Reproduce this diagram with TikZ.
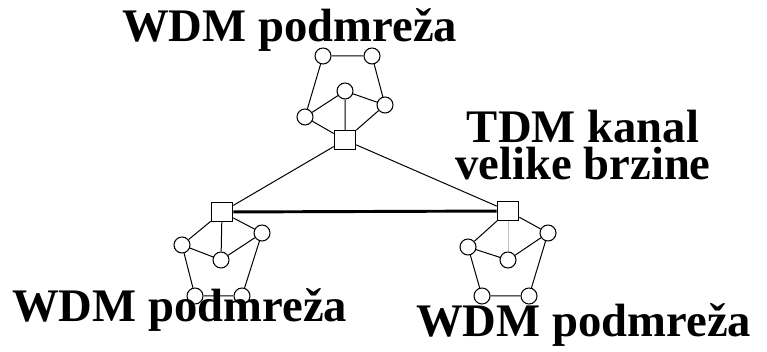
\documentclass[tikz,border=0pt]{standalone}
\usepackage{fontspec}
\setmainfont{Liberation Serif}
\begin{document}
\begin{tikzpicture}[x=0.75pt,y=-0.75pt,
  ring/.style={circle,draw,fill=white,line width=0.8pt,minimum size=12pt,inner sep=0pt},
  sw/.style={rectangle,draw,fill=white,line width=0.9pt,minimum width=16pt,minimum height=14pt,inner sep=0pt},
  lnk/.style={line width=0.75pt},
  trunk/.style={line width=2.2pt},
  lbl/.style={font=\fontsize{35}{37}\selectfont\bfseries,inner sep=0pt,anchor=base west}]
\useasboundingbox (0,0) rectangle (767,352);
% top subnet
\node[ring] (t1) at (323,56) {};
\node[ring] (t2) at (372,56) {};
\node[ring] (tm) at (345,91) {};
\node[ring] (tl) at (305,117) {};
\node[ring] (tr) at (385,105) {};
\node[sw] (ts) at (345,140) {};
% bottom-left subnet
\node[sw] (ls) at (222,212) {};
\node[ring] (ll) at (182,245) {};
\node[ring] (lm) at (221,260) {};
\node[ring] (lr) at (262,233) {};
\node[ring] (lb1) at (195,296) {};
\node[ring] (lb2) at (242,296) {};
% bottom-right subnet
\node[sw] (rs) at (508,211) {};
\node[ring] (rl) at (468,247) {};
\node[ring] (rm) at (508,260) {};
\node[ring] (rr) at (548,233) {};
\node[ring] (rb1) at (482,296) {};
\node[ring] (rb2) at (529,296) {};
% links
\draw[lnk] (t1) -- (t2) (t1) -- (tl) (t2) -- (tr) (tm) -- (tl) (tm) -- (tr) (tm) -- (ts) (tl) -- (ts) (tr) -- (ts);
\draw[lnk] (ls) -- (ll) (ls) -- (lm) (ls) -- (lr) (ll) -- (lm) (lm) -- (lr) (ll) -- (lb1) (lr) -- (lb2) (lb1) -- (lb2);
\draw[lnk] (rs) -- (rl) (rs) -- (rr) (rl) -- (rm) (rm) -- (rr) (rl) -- (rb1) (rr) -- (rb2) (rb1) -- (rb2);
\draw[lnk,gray!50] (rs) -- (rm);
\draw[lnk] (ts) -- (ls) (ts) -- (rs);
\draw[trunk] (ls) -- (rs);
% labels
\node[lbl] (lt) at (122,42) {WDM podmreža};
\node[lbl] (lbl1) at (12,322) {WDM podmreža};
\node[lbl] (lbl2) at (416,337) {WDM podmreža};
\node[font=\fontsize{35}{27.75}\selectfont\bfseries,inner sep=0pt,align=center,anchor=base] (tdm) at (583,180) {TDM kanal\\velike brzine};
\end{tikzpicture}
\end{document}
